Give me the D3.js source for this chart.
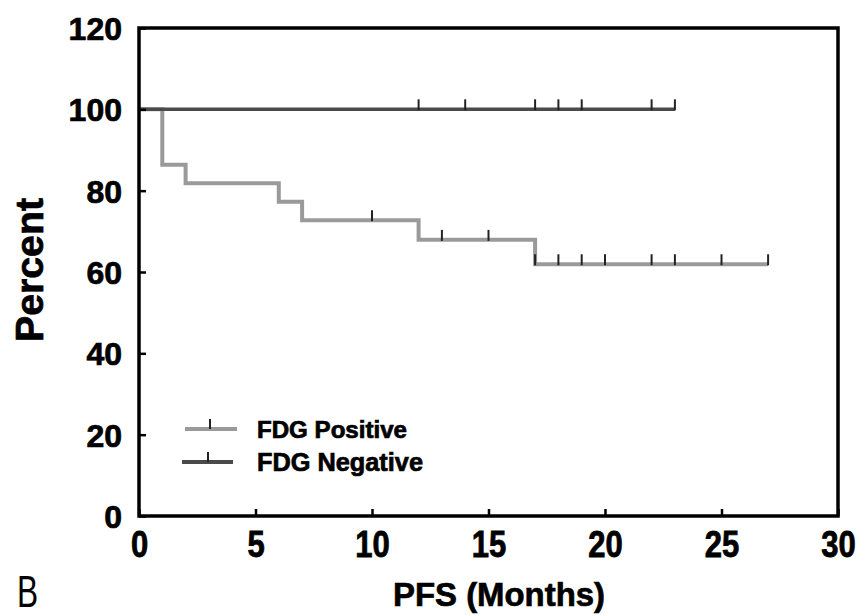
<!DOCTYPE html>
<html>
<head>
<meta charset="utf-8">
<script src="https://cdn.jsdelivr.net/npm/d3@7"></script>
<style>
  html, body { margin: 0; padding: 0; background: #fff; }
  text { font-family: "Liberation Sans", Arial, sans-serif; fill: #000; }
  .heavy { stroke: #000; stroke-width: 0.7px; }
</style>
</head>
<body>
<svg id="chart" width="860" height="615"></svg>
<script>
// Kaplan–Meier progression-free survival by FDG status
const posTimes = [0, 1, 2, 6, 7, 12, 17, 27];
const posSurv  = [100, 86.4, 81.8, 77.3, 72.7, 67.9, 61.9, 61.9];
const posCensor = [10, 13, 15, 17, 18, 19, 20, 22, 23, 25, 27];

const negTimes = [0, 23];
const negSurv  = [100, 100];
const negCensor = [12, 14, 17, 18, 19, 22, 23];

const xTicks = [0, 5, 10, 15, 20, 25, 30];
const yTicks = [0, 20, 40, 60, 80, 100, 120];

const seriesNames = ["FDG Positive", "FDG Negative"];
const posColor = "#9a9a9a", negColor = "#4a4a4a", censorColor = "#222";

const svg = d3.select("#chart");
const x = d3.scaleLinear().domain([0, 30]).range([139, 838]);
const y = d3.scaleLinear().domain([0, 120]).range([516, 28]);

// step lookup for placing censor marks
function survAt(times, surv, t) {
  let v = surv[0];
  for (let i = 0; i < times.length; i++) if (times[i] <= t) v = surv[i];
  return v;
}

const stepLine = d3.line()
  .x(d => x(d[0])).y(d => y(d[1]))
  .curve(d3.curveStepAfter);

function drawCurve(times, surv, censor, color, width) {
  const pts = times.map((t, i) => [t, surv[i]]);
  svg.append("path")
    .attr("d", stepLine(pts))
    .attr("fill", "none")
    .attr("stroke", color)
    .attr("stroke-width", width)
    .attr("stroke-linejoin", "miter");
  svg.append("g").selectAll("line").data(censor).join("line")
    .attr("x1", d => x(d)).attr("x2", d => x(d))
    .attr("y1", d => y(survAt(times, surv, d)) - 10)
    .attr("y2", d => y(survAt(times, surv, d)) + 1)
    .attr("stroke", censorColor)
    .attr("stroke-width", 2);
}

drawCurve(posTimes, posSurv, posCensor, posColor, 4);
drawCurve(negTimes, negSurv, negCensor, negColor, 3.5);

// frame
svg.append("rect")
  .attr("x", x(0)).attr("y", y(120))
  .attr("width", x(30) - x(0)).attr("height", y(0) - y(120))
  .attr("fill", "none").attr("stroke", "#000").attr("stroke-width", 3.5);

// axes with inward ticks
const yAxis = d3.axisLeft(y).tickValues(yTicks).tickSize(-7).tickPadding(17);
const gy = svg.append("g").attr("transform", `translate(${x(0)},0)`).call(yAxis);
gy.select(".domain").remove();
gy.selectAll(".tick line").attr("stroke", "#000").attr("stroke-width", 2.5);
gy.selectAll(".tick text")
  .attr("class", "heavy")
  .attr("font-size", 32).attr("font-weight", "bold")
  .attr("font-family", "Liberation Sans, Arial, sans-serif")
  .attr("dy", "0.36em");

// x tick labels are drawn a little taller than wide
const xAxis = d3.axisBottom(x).tickValues(xTicks).tickSize(-7).tickPadding(0);
const gx = svg.append("g").attr("transform", `translate(0,${y(0)})`).call(xAxis);
gx.select(".domain").remove();
gx.selectAll(".tick line").attr("stroke", "#000").attr("stroke-width", 2.5);
gx.selectAll(".tick text")
  .attr("class", "heavy")
  .attr("font-size", 31).attr("font-weight", "bold")
  .attr("font-family", "Liberation Sans, Arial, sans-serif")
  .attr("transform", "scale(1,1.18)")
  .attr("y", 41 / 1.18).attr("dy", 0);

// axis titles
svg.append("text")
  .attr("class", "heavy")
  .attr("x", 499).attr("y", 606)
  .attr("text-anchor", "middle")
  .attr("font-size", 34).attr("font-weight", "bold")
  .attr("textLength", 212).attr("lengthAdjust", "spacingAndGlyphs")
  .text("PFS (Months)");

svg.append("text")
  .attr("class", "heavy")
  .attr("transform", "translate(43,270) rotate(-90)")
  .attr("text-anchor", "middle")
  .attr("font-size", 38).attr("font-weight", "bold")
  .attr("textLength", 144).attr("lengthAdjust", "spacingAndGlyphs")
  .text("Percent");

// panel letter
svg.append("text")
  .attr("transform", "translate(17,607) scale(0.72,1)")
  .attr("font-size", 44)
  .text("B");

// legend
const legend = [
  { name: seriesNames[0], color: posColor, x1: 185, x2: 237, tx: 210, y: 429, size: 23, len: 150 },
  { name: seriesNames[1], color: negColor, x1: 182, x2: 233, tx: 208, y: 462, size: 25.5, len: 166 }
];
const lg = svg.append("g").selectAll("g").data(legend).join("g");
lg.append("line")
  .attr("x1", d => d.x1).attr("x2", d => d.x2)
  .attr("y1", d => d.y).attr("y2", d => d.y)
  .attr("stroke", d => d.color).attr("stroke-width", 4);
lg.append("line")
  .attr("x1", d => d.tx).attr("x2", d => d.tx)
  .attr("y1", d => d.y - 10).attr("y2", d => d.y)
  .attr("stroke", censorColor).attr("stroke-width", 2);
lg.append("text")
  .attr("class", "heavy")
  .attr("x", 257).attr("y", d => d.y + 9)
  .attr("font-size", d => d.size).attr("font-weight", "bold")
  .attr("textLength", d => d.len).attr("lengthAdjust", "spacingAndGlyphs")
  .text(d => d.name);
</script>
</body>
</html>
